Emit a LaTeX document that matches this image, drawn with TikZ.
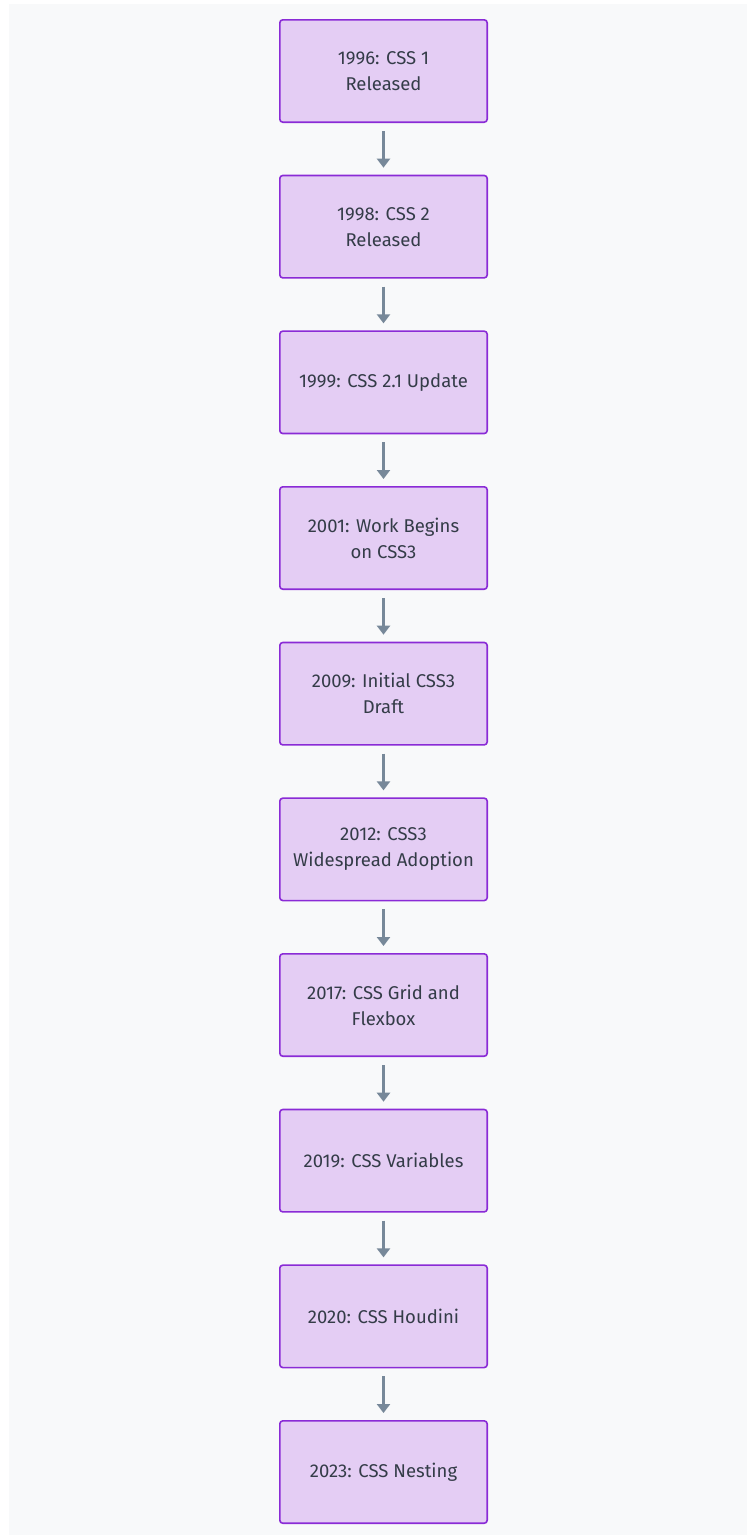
\documentclass[tikz,border=0pt]{standalone}
\usepackage{fontspec}
\setmainfont{Fira Sans}
\usetikzlibrary{positioning,arrows.meta}
\definecolor{pagegray}{HTML}{F8F9FA}
\definecolor{boxfill}{HTML}{E4CDF4}
\definecolor{boxline}{HTML}{8A2BD6}
\definecolor{textgray}{HTML}{343C48}
\definecolor{arrowgray}{HTML}{778899}
\tikzstyle{c} = [draw=boxline, line width=1.6pt, fill=boxfill, rounded corners=3pt, minimum width=207.4pt, minimum height=102.4pt, align=center, text=textgray, font=\fontsize{18.5}{26}\selectfont]

\begin{document}
\begin{tikzpicture}[x=1pt,y=-1pt,
			main/.style={c},
			node distance=51.67pt,
			link/.style={arrowgray, line width=2.6pt, -{Triangle[length=9pt,width=13pt]}, shorten <=8pt, shorten >=7pt}]
			\useasboundingbox (0,0) rectangle (747,1535);
			\fill[pagegray] (9,4) rectangle (747,1535);
			\node (1) [main] at (383.5,71) {1996: CSS 1\\Released};
			\node (2) [main, below=of 1] {1998: CSS 2\\Released};
			\node (3) [main, below=of 2] {1999: CSS 2.1 Update};
			\node (4) [main, below=of 3] {2001: Work Begins\\on CSS3};
			\node (5) [main, below=of 4] {2009: Initial CSS3\\Draft};
			\node (6) [main, below=of 5] {2012: CSS3\\Widespread Adoption};
			\node (7) [main, below=of 6] {2017: CSS Grid and\\Flexbox};
			\node (8) [main, below=of 7] {2019: CSS Variables};
			\node (9) [main, below=of 8] {2020: CSS Houdini};
			\node (10) [main, below=of 9] {2023: CSS Nesting};
			
			\foreach \a/\b in {1/2,2/3,3/4,4/5,5/6,6/7,7/8,8/9,9/10}
				\draw[link] (\a) -- (\b);
		\end{tikzpicture}
\end{document}
